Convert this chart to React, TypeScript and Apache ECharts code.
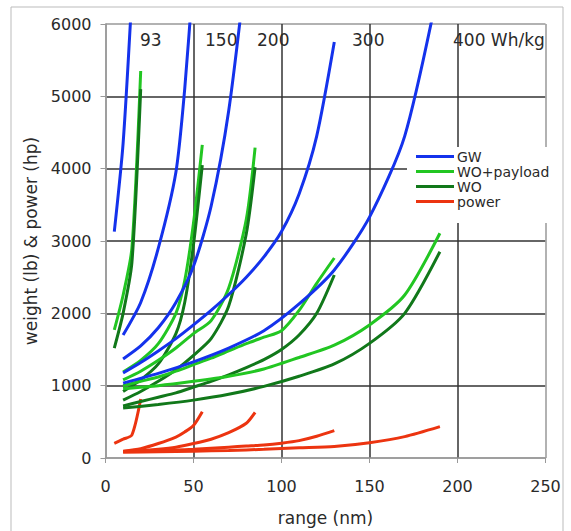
import React, { useEffect, useRef } from "react";
import * as echarts from "echarts";

// ranges (nm) and values (lb / hp) per battery energy density
const range93 = [5, 10, 15, 20];
const gw93 = [3130, 4350, 6400, null];
const wop93 = [1770, 2250, 2900, 5350];
const wo93 = [1520, 2000, 2700, 5100];
const pw93 = [203, 260, 318, 815];

const range150 = [10, 20, 30, 40, 45, 50, 55];
const gw150 = [1700, 2150, 2900, 3950, 5100, 6700, null];
const wop150 = [1190, 1350, 1580, 2000, 2450, 3250, 4330];
const wo150 = [920, 1080, 1300, 1720, 2150, 2950, 4050];
const pw150 = [95, 130, 200, 290, 360, 450, 640];

const range200 = [10, 20, 30, 40, 50, 60, 70, 80, 85];
const gw200 = [1370, 1550, 1800, 2150, 2650, 3480, 4800, 6800, null];
const wop200 = [1080, 1200, 1350, 1520, 1720, 1900, 2350, 3300, 4290];
const wo200 = [800, 920, 1060, 1220, 1420, 1650, 2100, 3100, 4020];
const pw200 = [90, 100, 120, 150, 200, 260, 350, 480, 630];

const range300 = [10, 20, 30, 40, 50, 60, 70, 80, 90, 100, 110, 120, 130];
const gw300 = [1175, 1320, 1480, 1650, 1840, 2040, 2260, 2500, 2780, 3130, 3650, 4450, 5750];
const wop300 = [1000, 1060, 1120, 1200, 1290, 1380, 1480, 1580, 1670, 1760, 2040, 2415, 2765];
const wo300 = [720, 780, 840, 900, 980, 1060, 1150, 1250, 1360, 1500, 1700, 2000, 2530];
const pw300 = [90, 95, 100, 110, 120, 135, 150, 165, 180, 205, 240, 300, 378];

const range400 = [10, 30, 50, 70, 90, 110, 130, 150, 170, 190];
const gw400 = [1035, 1170, 1330, 1520, 1760, 2130, 2600, 3330, 4450, 6600];
const wop400 = [960, 1000, 1060, 1130, 1230, 1390, 1560, 1840, 2253, 3107];
const wo400 = [690, 740, 800, 880, 990, 1130, 1300, 1585, 2000, 2852];
const pw400 = [80, 85, 95, 105, 120, 140, 160, 212, 295, 433];

const seriesNames = ["GW", "WO+payload", "WO", "power"];
const densityLabels = ["93", "150", "200", "300", "400 Wh/kg"];
const xTicks = [0, 50, 100, 150, 200, 250];
const yTicks = [0, 1000, 2000, 3000, 4000, 5000, 6000];

const COLORS: Record<string, string> = {
  GW: "#1432ec",
  "WO+payload": "#22c622",
  WO: "#11781a",
  power: "#ec3410",
};

const groups = [
  { r: range93, v: [gw93, wop93, wo93, pw93] },
  { r: range150, v: [gw150, wop150, wo150, pw150] },
  { r: range200, v: [gw200, wop200, wo200, pw200] },
  { r: range300, v: [gw300, wop300, wo300, pw300] },
  { r: range400, v: [gw400, wop400, wo400, pw400] },
];

const FONT = "'DejaVu Sans', Verdana, sans-serif";
const TXT = "#2a2a2a";

export default function App() {
  const ref = useRef<HTMLDivElement>(null);
  useEffect(() => {
    document.body.style.margin = "0";
    const chart = echarts.init(ref.current!, null, { renderer: "svg" });
    const series: any[] = [];
    groups.forEach((g) => {
      g.v.forEach((vals, i) => {
        const name = seriesNames[i];
        series.push({
          type: "line",
          name,
          data: g.r.map((x, k) => [x, vals[k]]),
          symbol: "none",
          smooth: 0.25,
          clip: true,
          lineStyle: { width: 3, color: COLORS[name] },
          itemStyle: { color: COLORS[name] },
          z: 3,
        });
      });
    });
    const gridX = ["#999", "#333", "#333", "#333", "#333", "#999"];
    const gridY = ["#999", "#333", "#333", "#333", "#333", "#333", "#999"];
    const labelPos = [
      { left: 140, top: 31 },
      { left: 205, top: 31 },
      { left: 257, top: 31 },
      { left: 352, top: 31 },
      { left: 453, top: 31 },
    ];
    chart.setOption({
      animation: false,
      textStyle: { fontFamily: FONT },
      grid: { left: 105.5, right: 25.5, top: 24, bottom: 73 },
      xAxis: {
        type: "value",
        min: xTicks[0],
        max: xTicks[xTicks.length - 1],
        interval: 50,
        name: "range (nm)",
        nameLocation: "middle",
        nameGap: 51,
        nameTextStyle: { fontSize: 17, color: TXT, fontFamily: FONT },
        axisLine: { lineStyle: { color: "#999", width: 1.5 } },
        axisTick: { show: true, length: 5, lineStyle: { color: "#999" } },
        axisLabel: {
          fontSize: 16,
          color: TXT,
          margin: 20,
          fontFamily: FONT,
          formatter: (v: number) => String(v),
        },
        splitLine: { show: true, lineStyle: { color: gridX, width: 1.5 } },
      },
      yAxis: {
        type: "value",
        min: yTicks[0],
        max: yTicks[yTicks.length - 1],
        interval: 1000,
        name: "weight (lb) & power (hp)",
        nameLocation: "middle",
        nameGap: 66,
        nameTextStyle: { fontSize: 17, color: TXT, fontFamily: FONT },
        axisLine: { show: true, lineStyle: { color: "#999", width: 1.5 } },
        axisTick: { show: true, length: 5, lineStyle: { color: "#999" } },
        axisLabel: {
          fontSize: 16,
          color: TXT,
          margin: 14,
          fontFamily: FONT,
          formatter: (v: number) => String(v),
        },
        splitLine: { show: true, lineStyle: { color: gridY, width: 1.5 } },
      },
      legend: {
        data: seriesNames,
        orient: "vertical",
        left: 407,
        top: 147,
        icon: "rect",
        itemWidth: 38,
        itemHeight: 3,
        itemGap: 0,
        backgroundColor: "#fff",
        padding: [2, 8, 14, 9],
        textStyle: { fontSize: 14, color: TXT, lineHeight: 15, fontFamily: FONT, padding: [0, 0, 0, -2] },
      },
      graphic: [
        {
          type: "rect",
          shape: { x: 11, y: 7, width: 552, height: 600 },
          style: { fill: "none", stroke: "#bbb", lineWidth: 1 },
          silent: true,
          z: -10,
        },
        ...densityLabels.map((t, i) => ({
          type: "text",
          left: labelPos[i].left,
          top: labelPos[i].top,
          style: { text: t, fontSize: 17, fill: TXT, fontFamily: FONT },
          z: 5,
        })),
      ],
      series,
    });
    return () => chart.dispose();
  }, []);
  return (
    <div
      ref={ref}
      style={{ position: "absolute", left: 0, top: 0, width: 571, height: 531, background: "#fff" }}
    />
  );
}
